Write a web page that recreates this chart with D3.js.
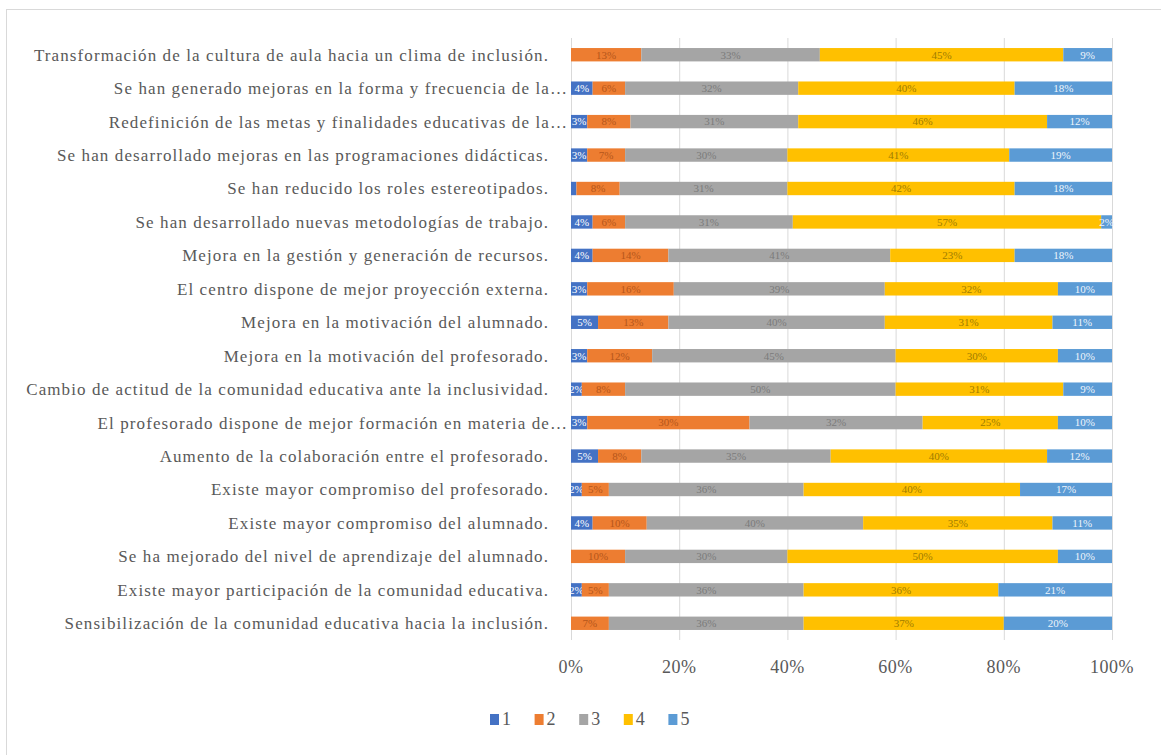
<!DOCTYPE html>
<html>
<head>
<meta charset="utf-8">
<script src="https://cdn.jsdelivr.net/npm/d3@7"></script>
<style>
  body { margin: 0; background: #fff; }
  text { font-family: "Liberation Serif", "Times New Roman", serif; }
</style>
</head>
<body>
<div id="chart"></div>
<script>
const width = 1161;
const height = 755;

const categories = [
  "Transformación de la cultura de aula hacia un clima de inclusión.",
  "Se han generado mejoras en la forma y frecuencia de la…",
  "Redefinición de las metas y finalidades educativas de la…",
  "Se han desarrollado mejoras en las programaciones didácticas.",
  "Se han reducido los roles estereotipados.",
  "Se han desarrollado nuevas metodologías de trabajo.",
  "Mejora en la gestión y generación de recursos.",
  "El centro dispone de mejor proyección externa.",
  "Mejora en la motivación del alumnado.",
  "Mejora en la motivación del profesorado.",
  "Cambio de actitud de la comunidad educativa ante la inclusividad.",
  "El profesorado dispone de mejor formación en materia de…",
  "Aumento de la colaboración entre el profesorado.",
  "Existe mayor compromiso del profesorado.",
  "Existe mayor compromiso del alumnado.",
  "Se ha mejorado del nivel de aprendizaje del alumnado.",
  "Existe mayor participación de la comunidad educativa.",
  "Sensibilización de la comunidad educativa hacia la inclusión."
];

const seriesNames = ["1", "2", "3", "4", "5"];

// percentages per category, one array per answer level
const s1 = [0, 4, 3, 3, 1, 4, 4, 3, 5, 3, 2, 3, 5, 2, 4, 0, 2, 0];
const s2 = [13, 6, 8, 7, 8, 6, 14, 16, 13, 12, 8, 30, 8, 5, 10, 10, 5, 7];
const s3 = [33, 32, 31, 30, 31, 31, 41, 39, 40, 45, 50, 32, 35, 36, 40, 30, 36, 36];
const s4 = [45, 40, 46, 41, 42, 57, 23, 32, 31, 30, 31, 25, 40, 40, 35, 50, 36, 37];
const s5 = [9, 18, 12, 19, 18, 2, 18, 10, 11, 10, 9, 10, 12, 17, 11, 10, 21, 20];

const xTicks = [0, 20, 40, 60, 80, 100];

const colors = ["#4472C4", "#ED7D31", "#A5A5A5", "#FFC000", "#5B9BD5"];
const labelColors = ["#ffffff", "#b5561a", "#7b7b7b", "#a07c00", "#eef4fb"];

const rows = categories.map((c, i) => ({
  cat: c, "1": s1[i], "2": s2[i], "3": s3[i], "4": s4[i], "5": s5[i]
}));

const stack = d3.stack().keys(seriesNames);
const stacked = stack(rows);

const svg = d3.select("#chart").append("svg")
  .attr("width", width)
  .attr("height", height);

// chart frame (right and bottom edges fall outside the picture)
svg.append("rect")
  .attr("x", 6.5).attr("y", 9.5)
  .attr("width", 1200).attr("height", 800)
  .attr("fill", "none")
  .attr("stroke", "#d9d9d9");

const x = d3.scaleLinear().domain([0, 100]).range([571, 1112]);
const y = d3.scaleBand().domain(categories).range([38, 640]).paddingInner(0.6).paddingOuter(0.3);

// gridlines
svg.append("g")
  .selectAll("line")
  .data(xTicks)
  .join("line")
  .attr("x1", d => x(d) + 0.5).attr("x2", d => x(d) + 0.5)
  .attr("y1", 38).attr("y2", 640)
  .attr("stroke", "#d9d9d9");

const layers = svg.append("g")
  .selectAll("g")
  .data(stacked)
  .join("g")
  .attr("fill", (d, i) => colors[i]);

layers.selectAll("rect")
  .data(d => d)
  .join("rect")
  .attr("x", d => x(d[0]))
  .attr("y", d => y(d.data.cat))
  .attr("width", d => x(d[1]) - x(d[0]))
  .attr("height", y.bandwidth());

// value labels inside segments
layers.each(function (layer, li) {
  d3.select(this).selectAll("text")
    .data(layer.filter(d => d[1] - d[0] > 1))
    .join("text")
    .attr("x", d => (x(d[0]) + x(d[1])) / 2)
    .attr("y", d => y(d.data.cat) + y.bandwidth() / 2)
    .attr("dy", "0.35em")
    .attr("text-anchor", "middle")
    .attr("fill", labelColors[li])
    .style("font-size", "11px")
    .text(d => (d[1] - d[0]) + "%");
});

// category labels
svg.append("g")
  .selectAll("text")
  .data(categories)
  .join("text")
  .attr("x", d => d.endsWith("…") ? 568 : 549)
  .attr("y", d => y(d) + y.bandwidth() / 2)
  .attr("dy", "0.35em")
  .attr("text-anchor", "end")
  .attr("fill", "#595959")
  .style("font-size", "17px")
  .style("letter-spacing", "1.1px")
  .text(d => d);

// x axis tick labels
svg.append("g")
  .selectAll("text")
  .data(xTicks)
  .join("text")
  .attr("x", d => x(d))
  .attr("y", 673)
  .attr("text-anchor", "middle")
  .attr("fill", "#595959")
  .style("font-size", "18px")
  .style("letter-spacing", "0.5px")
  .text(d => d + "%");

// legend
const legend = svg.append("g")
  .selectAll("g")
  .data(seriesNames)
  .join("g")
  .attr("transform", (d, i) => `translate(${490 + i * 44.6}, 714)`);

legend.append("rect")
  .attr("width", 9).attr("height", 11)
  .attr("fill", (d, i) => colors[i]);

legend.append("text")
  .attr("x", 12).attr("y", 11)
  .attr("fill", "#595959")
  .style("font-size", "18px")
  .text(d => d);
</script>
</body>
</html>
